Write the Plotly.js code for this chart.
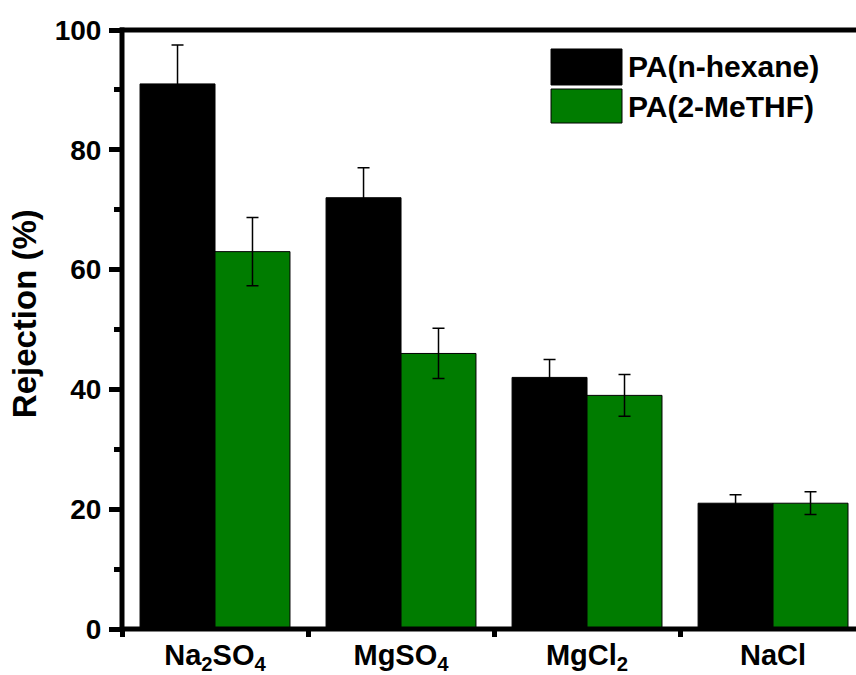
<!DOCTYPE html>
<html>
<head>
<meta charset="utf-8">
<script src="https://cdn.plot.ly/plotly-3.0.1.min.js"></script>
<style>
  html, body { margin: 0; padding: 0; background: #fff; }
  #chart { width: 856px; height: 675px; }
</style>
</head>
<body>
<div id="chart"></div>
<script>
// Salt rejection of the two polyamide membranes
const salts = ['Na<sub>2</sub>SO<sub>4</sub>', 'MgSO<sub>4</sub>', 'MgCl<sub>2</sub>', 'NaCl'];
const seriesNames = ['PA(n-hexane)', 'PA(2-MeTHF)'];
const hexaneRejection = [91, 72, 42, 21];
const hexaneError = [6.5, 5, 3, 1.4];
const meTHFRejection = [63, 46, 39, 21];
const meTHFError = [5.7, 4.2, 3.5, 1.9];
const yTicks = [0, 20, 40, 60, 80, 100];

const seriesColors = ['#000000', '#007c00'];
const FONT = 'Liberation Sans, Arial, sans-serif';

function barTrace(name, values, errors, color) {
  return {
    type: 'bar',
    name: name,
    x: salts,
    y: values,
    marker: { color: color, line: { color: '#000', width: 1 } },
    error_y: {
      type: 'data', array: errors, visible: true,
      color: '#000', thickness: 1.5, width: 6
    },
    showlegend: false
  };
}

const data = [
  barTrace(seriesNames[0], hexaneRejection, hexaneError, seriesColors[0]),
  barTrace(seriesNames[1], meTHFRejection, meTHFError, seriesColors[1])
];

// Frame: left, bottom and top lines centred on the plot edges
const frameLine = { color: '#000', width: 5 };
const shapes = [
  { type: 'line', xref: 'paper', yref: 'paper', x0: 0, x1: 0, y0: -0.004, y1: 1.004, line: frameLine, layer: 'above' },
  { type: 'line', xref: 'paper', yref: 'paper', x0: -0.003, x1: 1.01, y0: 0, y1: 0, line: frameLine, layer: 'above' },
  { type: 'line', xref: 'paper', yref: 'paper', x0: -0.003, x1: 1.01, y0: 1, y1: 1, line: frameLine, layer: 'above' }
];

// Legend drawn as large swatches with labels beside them
const annotations = [];
const swatchRows = [[0.9082, 0.9683], [0.8447, 0.9015]];
seriesNames.forEach((name, i) => {
  const [y0, y1] = swatchRows[i];
  shapes.push({
    type: 'rect', xref: 'paper', yref: 'paper',
    x0: 0.5845, x1: 0.6812, y0: y0, y1: y1,
    fillcolor: seriesColors[i], line: { color: '#000', width: 1 }
  });
  annotations.push({
    xref: 'paper', yref: 'paper', x: 0.6866, y: (y0 + y1) / 2,
    xanchor: 'left', yanchor: 'middle', showarrow: false,
    text: name,
    font: { family: FONT, size: 30, color: '#000', weight: 'bold' }
  });
});

// Rotated axis title placed as an annotation
annotations.push({
  xref: 'paper', yref: 'paper', x: -0.1318, y: 0.526,
  xanchor: 'center', yanchor: 'middle', showarrow: false,
  textangle: -90, text: 'Rejection (%)',
  font: { family: FONT, size: 33, color: '#000', weight: 'bold' }
});

const layout = {
  width: 856, height: 675,
  margin: { l: 122, r: 0, t: 30, b: 46, pad: 0 },
  paper_bgcolor: '#fff', plot_bgcolor: '#fff',
  barmode: 'group', bargap: 0.194, bargroupgap: 0,
  showlegend: false,
  font: { family: FONT, color: '#000', weight: 'bold' },
  xaxis: {
    type: 'category',
    range: [-0.5, 3.446],
    showline: false,
    ticks: 'outside', tickson: 'boundaries', ticklen: 7, tickwidth: 5, tickcolor: '#000',
    ticklabelstandoff: 6,
    showgrid: false, zeroline: false,
    tickfont: { family: FONT, size: 29, color: '#000', weight: 'bold' }
  },
  yaxis: {
    range: [0, 100],
    tickvals: yTicks,
    showline: false,
    ticks: 'outside', ticklen: 12, tickwidth: 5, tickcolor: '#000',
    ticklabelstandoff: 2,
    minor: { dtick: 10, ticks: 'outside', ticklen: 7, tickwidth: 5, tickcolor: '#000', showgrid: false },
    showgrid: false, zeroline: false,
    tickfont: { family: FONT, size: 28, color: '#000', weight: 'bold' }
  },
  shapes: shapes,
  annotations: annotations
};

Plotly.newPlot('chart', data, layout, { displayModeBar: false, staticPlot: true });
</script>
</body>
</html>
